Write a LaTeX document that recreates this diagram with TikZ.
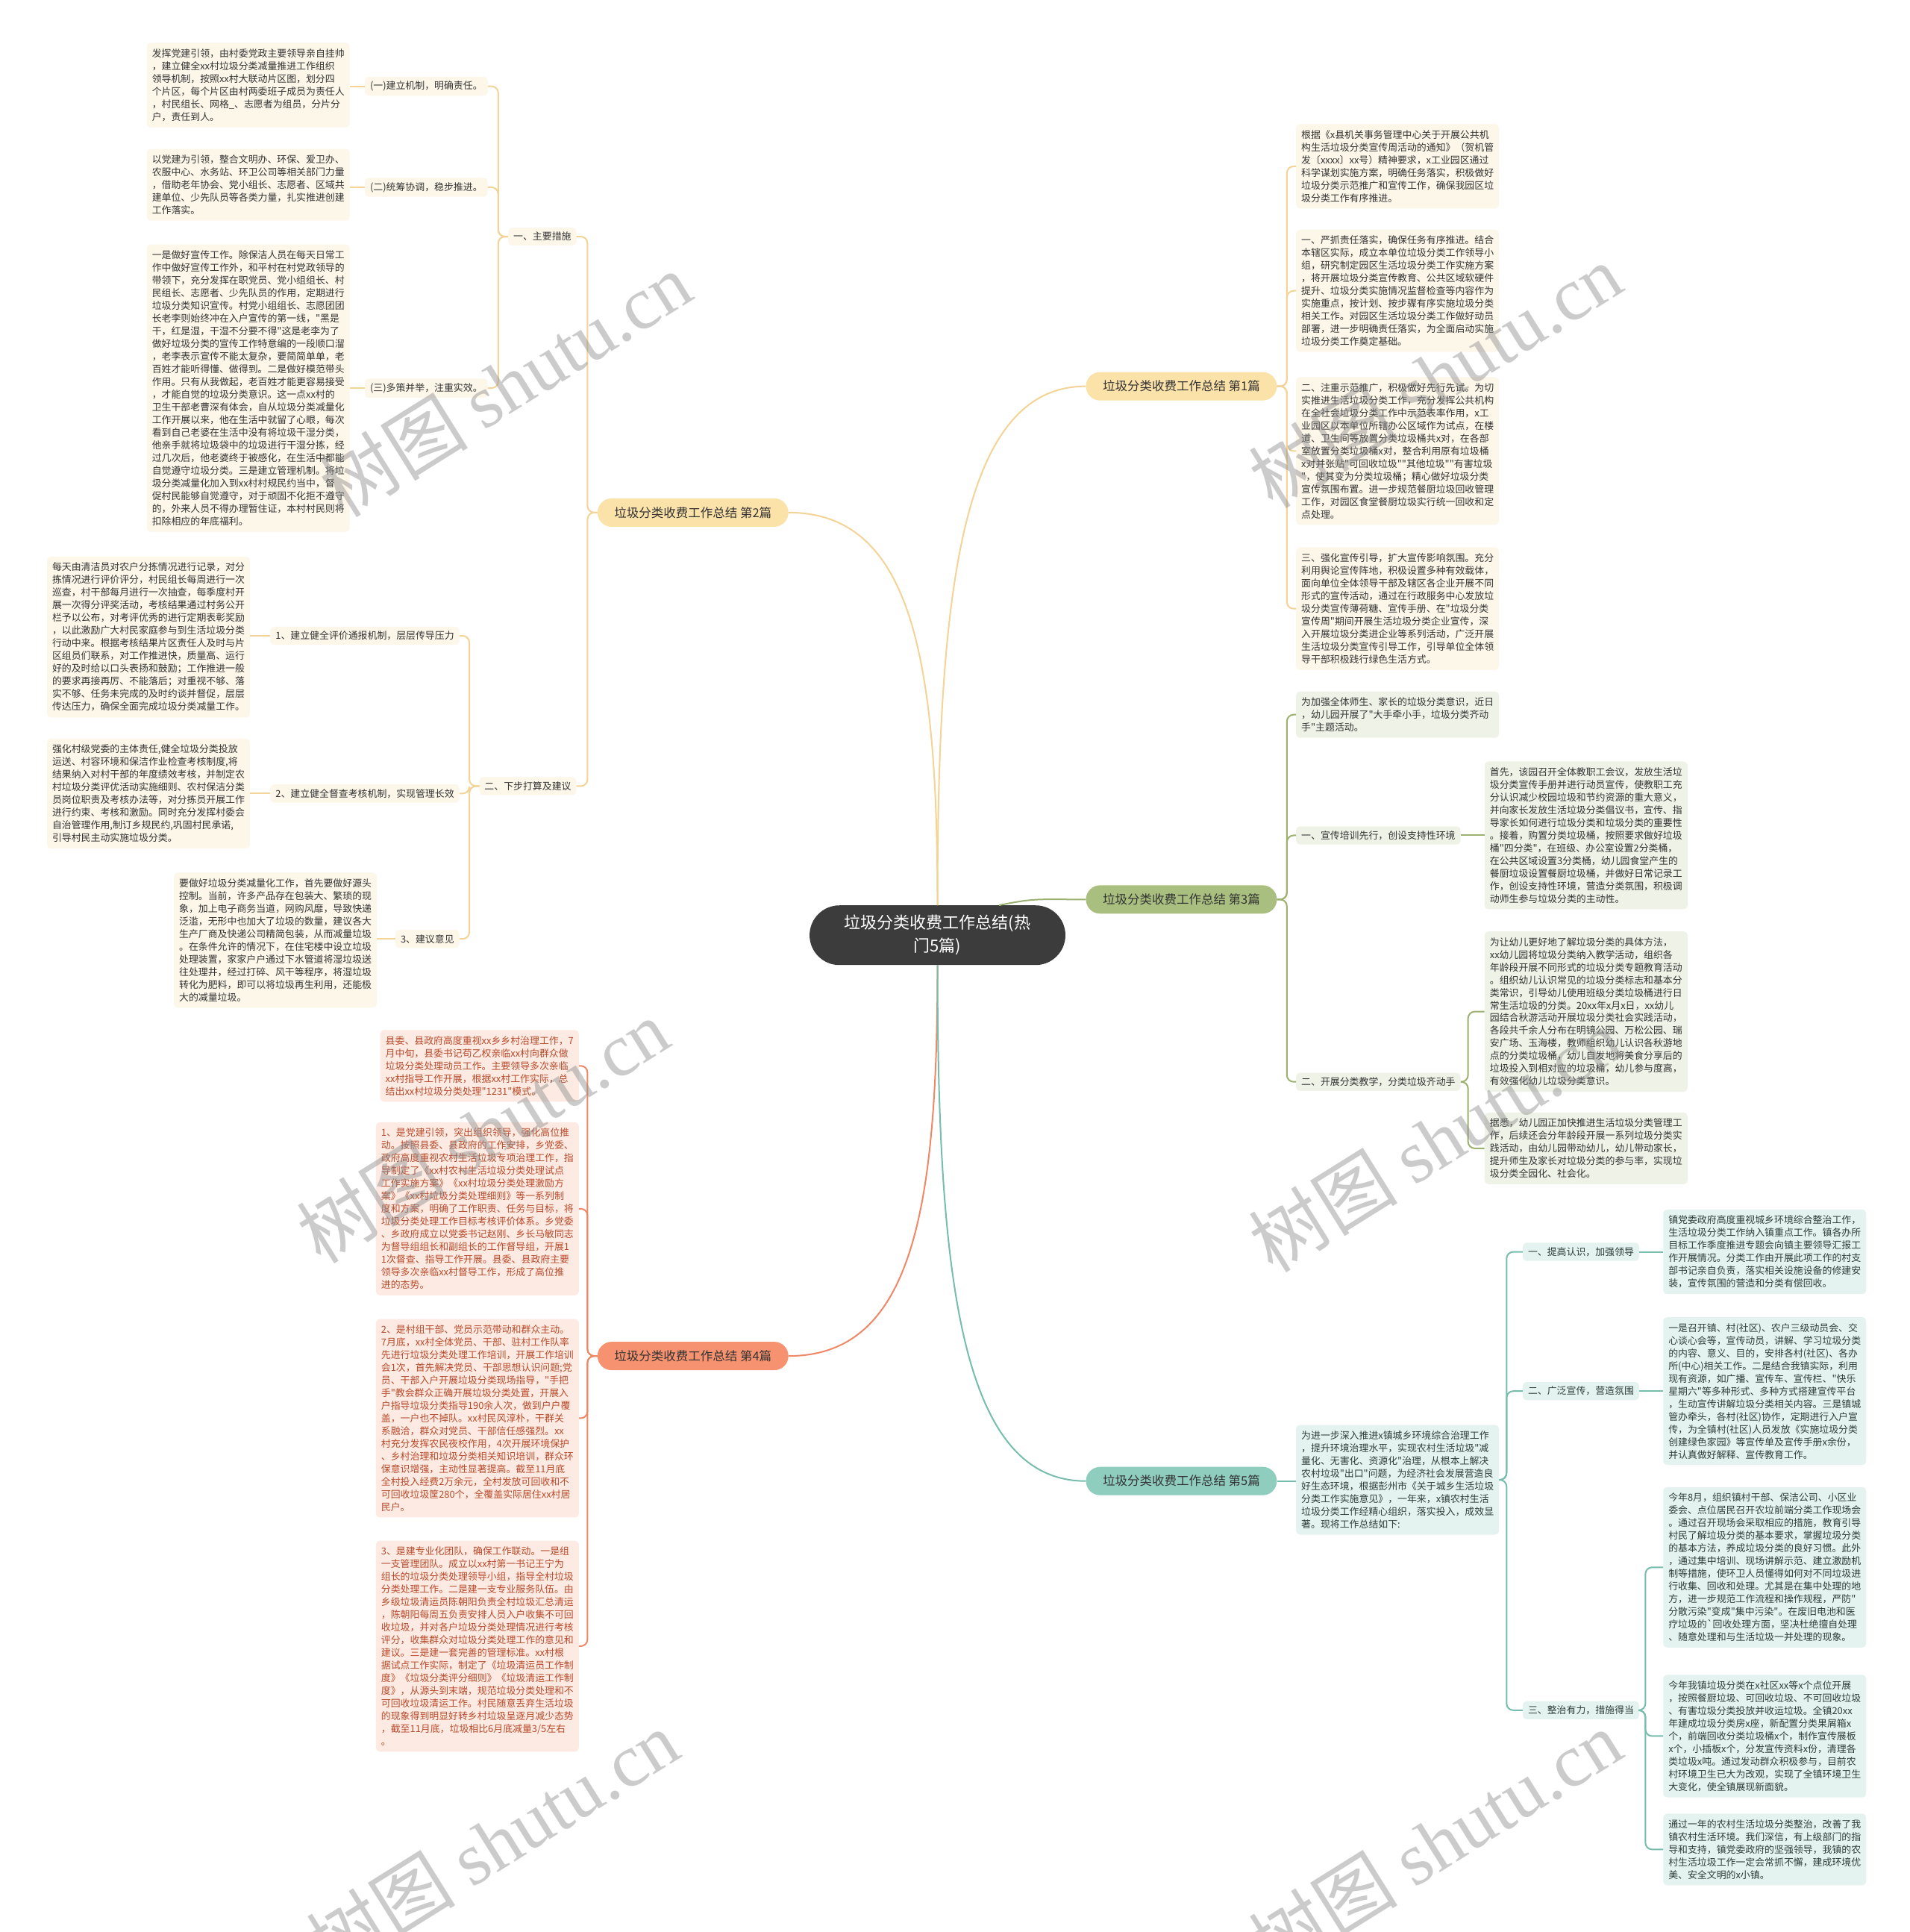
\documentclass[tikz,border=0pt]{standalone}
\usepackage{fontspec}
\newfontfamily\cjk{Noto Sans CJK SC}
\newfontfamily\wmserif{Liberation Serif}
\usetikzlibrary{calc}
\definecolor{rootc}{HTML}{3C3C3C}
\definecolor{bAfill}{HTML}{FBE2A9}
\definecolor{bAline}{HTML}{F4D396}
\definecolor{bAbox}{HTML}{FDF7E9}
\definecolor{bCfill}{HTML}{A9BF7F}
\definecolor{bCline}{HTML}{9DB271}
\definecolor{bCbox}{HTML}{EFF2E7}
\definecolor{bDfill}{HTML}{F6926F}
\definecolor{bDline}{HTML}{EE8866}
\definecolor{bDbox}{HTML}{FDEBE3}
\definecolor{bDtext}{HTML}{B84A2B}
\definecolor{bEfill}{HTML}{8FCDBF}
\definecolor{bEline}{HTML}{76BDAE}
\definecolor{bEbox}{HTML}{E4F3EF}
\definecolor{bEtext}{HTML}{2F3D3A}
\definecolor{txtc}{HTML}{333333}
\begin{document}
\begin{tikzpicture}[x=1.6516pt,y=-1.6516pt,
  rootnode/.style={fill=rootc,text=white,align=center,minimum width=343pt,minimum height=80pt,rounded corners=40pt,inner sep=4pt,font=\cjk\fontsize{22pt}{31pt}\selectfont},
  brnode/.style={minimum width=256pt,minimum height=38pt,rounded corners=19pt,inner sep=3pt,text=txtc,font=\cjk\fontsize{16.5pt}{20pt}\selectfont},
  txtbox/.style={rounded corners=5pt,inner xsep=7pt,inner ysep=8pt,align=left,font=\cjk\fontsize{12.9pt}{17pt}\selectfont},
  labbox/.style={rounded corners=5pt,inner xsep=7pt,inner ysep=6pt,align=left,font=\cjk\fontsize{12.9pt}{17pt}\selectfont},
  boxA/.style={txtbox,fill=bAbox,text=txtc},
  labA/.style={labbox,fill=bAbox,text=txtc},
  boxC/.style={txtbox,fill=bCbox,text=txtc},
  labC/.style={labbox,fill=bCbox,text=txtc},
  boxD/.style={txtbox,fill=bDbox,text=bDtext},
  boxE/.style={txtbox,fill=bEbox,text=bEtext},
  labE/.style={labbox,fill=bEbox,text=bEtext},
  conn/.style={line width=2pt,rounded corners=9pt},
  lineA/.style={conn,draw=bAline},
  lineC/.style={conn,draw=bCline},
  lineD/.style={conn,draw=bDline},
  lineE/.style={conn,draw=bEline},
  wmark/.style={text=black!45,opacity=0.45,rotate=32,font=\fontsize{100pt}{110pt}\selectfont}
]
\useasboundingbox (0,0) rectangle (1550,1568);
\fill[white] (0,0) rectangle (1550,1568);

% ---------------- root and branches
\node[rootnode] (root) at (761,759) {垃圾分类收费工作总结(热\\门5篇)};
\node[brnode,fill=bAfill] (br1) at (959,313.5) {垃圾分类收费工作总结 第1篇};
\node[brnode,fill=bAfill] (br2) at (562.5,416) {垃圾分类收费工作总结 第2篇};
\node[brnode,fill=bCfill] (br3) at (959,730) {垃圾分类收费工作总结 第3篇};
\node[brnode,fill=bDfill] (br4) at (562.5,1100.5) {垃圾分类收费工作总结 第4篇};
\node[brnode,fill=bEfill] (br5) at (959,1202) {垃圾分类收费工作总结 第5篇};

\draw[lineA] (root.north) .. controls +(0,-260) and +(-100,0) .. (br1.west);
\draw[lineA] (root.north) .. controls +(0,-200) and +(100,0) .. (br2.east);
\draw[lineC] ($(root.north)+(50,0)$) .. controls +(30,-6) and +(-40,0) .. (br3.west);
\draw[lineD] (root.south) .. controls +(0,200) and +(100,0) .. (br4.east);
\draw[lineE] (root.south) .. controls +(0,260) and +(-100,0) .. (br5.west);

% ---------------- branch 1
\node[boxA,anchor=west] (t10) at (1052,135) {根据《x县机关事务管理中心关于开展公共机\\
构生活垃圾分类宣传周活动的通知》（贺机管\\
发〔xxxx〕xx号）精神要求，x工业园区通过\\
科学谋划实施方案，明确任务落实，积极做好\\
垃圾分类示范推广和宣传工作，确保我园区垃\\
圾分类工作有序推进。};
\node[boxA,anchor=west] (t11) at (1052,236) {一、严抓责任落实，确保任务有序推进。结合\\
本辖区实际，成立本单位垃圾分类工作领导小\\
组，研究制定园区生活垃圾分类工作实施方案\\
，将开展垃圾分类宣传教育、公共区域软硬件\\
提升、垃圾分类实施情况监督检查等内容作为\\
实施重点，按计划、按步骤有序实施垃圾分类\\
相关工作。对园区生活垃圾分类工作做好动员\\
部署，进一步明确责任落实，为全面启动实施\\
垃圾分类工作奠定基础。};
\node[boxA,anchor=west] (t12) at (1052,366) {二、注重示范推广，积极做好先行先试。为切\\
实推进生活垃圾分类工作，充分发挥公共机构\\
在全社会垃圾分类工作中示范表率作用，x工\\
业园区以本单位所辖办公区域作为试点，在楼\\
道、卫生间等放置分类垃圾桶共x对，在各部\\
室放置分类垃圾桶x对，整合利用原有垃圾桶\\
x对并张贴"可回收垃圾""其他垃圾""有害垃圾\\
"，使其变为分类垃圾桶；精心做好垃圾分类\\
宣传氛围布置。进一步规范餐厨垃圾回收管理\\
工作，对园区食堂餐厨垃圾实行统一回收和定\\
点处理。};
\node[boxA,anchor=west] (t13) at (1052,494) {三、强化宣传引导，扩大宣传影响氛围。充分\\
利用舆论宣传阵地，积极设置多种有效载体，\\
面向单位全体领导干部及辖区各企业开展不同\\
形式的宣传活动，通过在行政服务中心发放垃\\
圾分类宣传薄荷糖、宣传手册、在"垃圾分类\\
宣传周"期间开展生活垃圾分类企业宣传，深\\
入开展垃圾分类进企业等系列活动，广泛开展\\
生活垃圾分类宣传引导工作，引导单位全体领\\
导干部积极践行绿色生活方式。};
\foreach \c in {t10,t11,t12,t13} \draw[lineA] (br1.east) -- ++(8,0) |- (\c.west);

% ---------------- branch 2
\node[labA,anchor=east] (m1) at (468,192) {一、主要措施};
\node[labA,anchor=east] (m2) at (468,638) {二、下步打算及建议};
\foreach \c in {m1,m2} \draw[lineA] (br2.west) -- ++(-8,0) |- (\c.east);

\node[labA,anchor=east] (l21) at (396,70) {(一)建立机制，明确责任。};
\node[labA,anchor=east] (l22) at (396,152) {(二)统筹协调，稳步推进。};
\node[labA,anchor=east] (l23) at (396,315) {(三)多策并举，注重实效。};
\foreach \c in {l21,l22,l23} \draw[lineA] (m1.west) -- ++(-8,0) |- (\c.east);

\node[boxA,anchor=east] (t21) at (284,69) {发挥党建引领，由村委党政主要领导亲自挂帅\\
，建立健全xx村垃圾分类减量推进工作组织\\
领导机制，按照xx村大联动片区图，划分四\\
个片区，每个片区由村两委班子成员为责任人\\
，村民组长、网格\_、志愿者为组员，分片分\\
户，责任到人。};
\node[boxA,anchor=east] (t22) at (284,150) {以党建为引领，整合文明办、环保、爱卫办、\\
农服中心、水务站、环卫公司等相关部门力量\\
，借助老年协会、党小组长、志愿者、区域共\\
建单位、少先队员等各类力量，扎实推进创建\\
工作落实。};
\node[boxA,anchor=east] (t23) at (284,315) {一是做好宣传工作。除保洁人员在每天日常工\\
作中做好宣传工作外，和平村在村党政领导的\\
带领下，充分发挥在职党员、党小组组长、村\\
民组长、志愿者、少先队员的作用，定期进行\\
垃圾分类知识宣传。村党小组组长、志愿团团\\
长老李则始终冲在入户宣传的第一线，"黑是\\
干，红是湿，干湿不分要不得"这是老李为了\\
做好垃圾分类的宣传工作特意编的一段顺口溜\\
，老李表示宣传不能太复杂，要简简单单，老\\
百姓才能听得懂、做得到。二是做好模范带头\\
作用。只有从我做起，老百姓才能更容易接受\\
，才能自觉的垃圾分类意识。这一点xx村的\\
卫生干部老曹深有体会，自从垃圾分类减量化\\
工作开展以来，他在生活中就留了心眼，每次\\
看到自己老婆在生活中没有将垃圾干湿分类，\\
他亲手就将垃圾袋中的垃圾进行干湿分拣，经\\
过几次后，他老婆终于被感化，在生活中都能\\
自觉遵守垃圾分类。三是建立管理机制。将垃\\
圾分类减量化加入到xx村村规民约当中，督\\
促村民能够自觉遵守，对于顽固不化拒不遵守\\
的，外来人员不得办理暂住证，本村村民则将\\
扣除相应的年底福利。};
\draw[lineA] (l21.west) -- (t21.east |- l21.west);
\draw[lineA] (l22.west) -- (t22.east |- l22.west);
\draw[lineA] (l23.west) -- (t23.east |- l23.west);

\node[labA,anchor=east] (l24) at (373,516) {1、建立健全评价通报机制，层层传导压力};
\node[labA,anchor=east] (l25) at (373,644) {2、建立健全督查考核机制，实现管理长效};
\node[labA,anchor=east] (l26) at (373,762) {3、建议意见};
\foreach \c in {l24,l25,l26} \draw[lineA] (m2.west) -- ++(-8,0) |- (\c.east);

\node[boxA,anchor=east] (t24) at (203,517) {每天由清洁员对农户分拣情况进行记录，对分\\
拣情况进行评价评分，村民组长每周进行一次\\
巡查，村干部每月进行一次抽查，每季度村开\\
展一次得分评奖活动，考核结果通过村务公开\\
栏予以公布，对考评优秀的进行定期表彰奖励\\
，以此激励广大村民家庭参与到生活垃圾分类\\
行动中来。根据考核结果片区责任人及时与片\\
区组员们联系，对工作推进快，质量高、运行\\
好的及时给以口头表扬和鼓励；工作推进一般\\
的要求再接再厉、不能落后；对重视不够、落\\
实不够、任务未完成的及时约谈并督促，层层\\
传达压力，确保全面完成垃圾分类减量工作。};
\node[boxA,anchor=east] (t25) at (203,644) {强化村级党委的主体责任,健全垃圾分类投放\\
运送、村容环境和保洁作业检查考核制度,将\\
结果纳入对村干部的年度绩效考核，并制定农\\
村垃圾分类评优活动实施细则、农村保洁分类\\
员岗位职责及考核办法等，对分拣员开展工作\\
进行约束、考核和激励。同时充分发挥村委会\\
自治管理作用,制订乡规民约,巩固村民承诺,\\
引导村民主动实施垃圾分类。};
\node[boxA,anchor=east] (t26) at (306,763) {要做好垃圾分类减量化工作，首先要做好源头\\
控制。当前，许多产品存在包装大、繁琐的现\\
象，加上电子商务当道，网购风靡，导致快递\\
泛滥，无形中也加大了垃圾的数量，建议各大\\
生产厂商及快递公司精简包装，从而减量垃圾\\
。在条件允许的情况下，在住宅楼中设立垃圾\\
处理装置，家家户户通过下水管道将湿垃圾送\\
往处理井，经过打碎、风干等程序，将湿垃圾\\
转化为肥料，即可以将垃圾再生利用，还能极\\
大的减量垃圾。};
\draw[lineA] (l24.west) -- (t24.east |- l24.west);
\draw[lineA] (l25.west) -- (t25.east |- l25.west);
\draw[lineA] (l26.west) -- (t26.east |- l26.west);

% ---------------- branch 3
\node[boxC,anchor=west] (t30) at (1052,580) {为加强全体师生、家长的垃圾分类意识，近日\\
，幼儿园开展了"大手牵小手，垃圾分类齐动\\
手"主题活动。};
\node[labC,anchor=west] (l31) at (1052,678) {一、宣传培训先行，创设支持性环境};
\node[labC,anchor=west] (l32) at (1052,878) {二、开展分类教学，分类垃圾齐动手};
\foreach \c in {t30,l31,l32} \draw[lineC] (br3.east) -- ++(8,0) |- (\c.west);

\node[boxC,anchor=west] (t31) at (1205,678) {首先，该园召开全体教职工会议，发放生活垃\\
圾分类宣传手册并进行动员宣传，使教职工充\\
分认识减少校园垃圾和节约资源的重大意义，\\
并向家长发放生活垃圾分类倡议书，宣传、指\\
导家长如何进行垃圾分类和垃圾分类的重要性\\
。接着，购置分类垃圾桶，按照要求做好垃圾\\
桶"四分类"，在班级、办公室设置2分类桶，\\
在公共区域设置3分类桶，幼儿园食堂产生的\\
餐厨垃圾设置餐厨垃圾桶，并做好日常记录工\\
作，创设支持性环境，营造分类氛围，积极调\\
动师生参与垃圾分类的主动性。};
\draw[lineC] (l31.east) -- (t31.west);
\node[boxC,anchor=west] (t32) at (1205,821) {为让幼儿更好地了解垃圾分类的具体方法，\\
xx幼儿园将垃圾分类纳入教学活动，组织各\\
年龄段开展不同形式的垃圾分类专题教育活动\\
。组织幼儿认识常见的垃圾分类标志和基本分\\
类常识，引导幼儿使用班级分类垃圾桶进行日\\
常生活垃圾的分类。20xx年x月x日，xx幼儿\\
园结合秋游活动开展垃圾分类社会实践活动，\\
各段共千余人分布在明镜公园、万松公园、瑞\\
安广场、玉海楼，教师组织幼儿认识各秋游地\\
点的分类垃圾桶，幼儿自发地将美食分享后的\\
垃圾投入到相对应的垃圾桶，幼儿参与度高，\\
有效强化幼儿垃圾分类意识。};
\node[boxC,anchor=west] (t33) at (1205,932) {据悉，幼儿园正加快推进生活垃圾分类管理工\\
作，后续还会分年龄段开展一系列垃圾分类实\\
践活动，由幼儿园带动幼儿，幼儿带动家长，\\
提升师生及家长对垃圾分类的参与率，实现垃\\
圾分类全园化、社会化。};
\foreach \c in {t32,t33} \draw[lineC] (l32.east) -- ++(6,0) |- (\c.west);

% ---------------- branch 4
\node[boxD,anchor=east] (t41) at (470,865) {县委、县政府高度重视xx乡乡村治理工作，7\\
月中旬，县委书记苟乙权亲临xx村向群众做\\
垃圾分类处理动员工作。主要领导多次亲临\\
xx村指导工作开展，根据xx村工作实际，总\\
结出xx村垃圾分类处理"1231"模式。};
\node[boxD,anchor=east] (t42) at (470,981) {1、是党建引领，突出组织领导，强化高位推\\
动。按照县委、县政府的工作安排，乡党委、\\
政府高度重视农村生活垃圾专项治理工作，指\\
导制定了《xx村农村生活垃圾分类处理试点\\
工作实施方案》《xx村垃圾分类处理激励方\\
案》《xx村垃圾分类处理细则》等一系列制\\
度和方案，明确了工作职责、任务与目标，将\\
垃圾分类处理工作目标考核评价体系。乡党委\\
、乡政府成立以党委书记赵刚、乡长马敏同志\\
为督导组组长和副组长的工作督导组，开展1\\
1次督查、指导工作开展。县委、县政府主要\\
领导多次亲临xx村督导工作，形成了高位推\\
进的态势。};
\node[boxD,anchor=east] (t43) at (470,1151) {2、是村组干部、党员示范带动和群众主动。\\
7月底，xx村全体党员、干部、驻村工作队率\\
先进行垃圾分类处理工作培训，开展工作培训\\
会1次，首先解决党员、干部思想认识问题;党\\
员、干部入户开展垃圾分类现场指导，"手把\\
手"教会群众正确开展垃圾分类处置，开展入\\
户指导垃圾分类指导190余人次，做到户户覆\\
盖，一户也不掉队。xx村民风淳朴，干群关\\
系融洽，群众对党员、干部信任感强烈。xx\\
村充分发挥农民夜校作用，4次开展环境保护\\
、乡村治理和垃圾分类相关知识培训，群众环\\
保意识增强，主动性显著提高。截至11月底\\
全村投入经费2万余元，全村发放可回收和不\\
可回收垃圾筐280个，全覆盖实际居住xx村居\\
民户。};
\node[boxD,anchor=east] (t44) at (470,1336) {3、是建专业化团队，确保工作联动。一是组\\
一支管理团队。成立以xx村第一书记王宁为\\
组长的垃圾分类处理领导小组，指导全村垃圾\\
分类处理工作。二是建一支专业服务队伍。由\\
乡级垃圾清运员陈朝阳负责全村垃圾汇总清运\\
，陈朝阳每周五负责安排人员入户收集不可回\\
收垃圾，并对各户垃圾分类处理情况进行考核\\
评分，收集群众对垃圾分类处理工作的意见和\\
建议。三是建一套完善的管理标准。xx村根\\
据试点工作实际，制定了《垃圾清运员工作制\\
度》《垃圾分类评分细则》《垃圾清运工作制\\
度》，从源头到末端，规范垃圾分类处理和不\\
可回收垃圾清运工作。村民随意丢弃生活垃圾\\
的现象得到明显好转乡村垃圾呈逐月减少态势\\
，截至11月底，垃圾相比6月底减量3/5左右\\
。};
\foreach \c in {t41,t42,t43,t44} \draw[lineD] (br4.west) -- ++(-8,0) |- (\c.east);

% ---------------- branch 5
\node[boxE,anchor=west] (t50) at (1052,1201) {为进一步深入推进x镇城乡环境综合治理工作\\
，提升环境治理水平，实现农村生活垃圾"减\\
量化、无害化、资源化"治理，从根本上解决\\
农村垃圾"出口"问题，为经济社会发展营造良\\
好生态环境，根据彭州市《关于城乡生活垃圾\\
分类工作实施意见》，一年来，x镇农村生活\\
垃圾分类工作经精心组织，落实投入，成效显\\
著。现将工作总结如下:};
\draw[lineE] (br5.east) -- (t50.west |- br5.east);

\node[labE,anchor=west] (l51) at (1236,1016) {一、提高认识，加强领导};
\node[labE,anchor=west] (l52) at (1236,1129) {二、广泛宣传，营造氛围};
\node[labE,anchor=west] (l53) at (1236,1388) {三、整治有力，措施得当};
\foreach \c in {l51,l52,l53} \draw[lineE] (t50.east) -- ++(6,0) |- (\c.west);

\node[boxE,anchor=west] (t51) at (1350,1016) {镇党委政府高度重视城乡环境综合整治工作，\\
生活垃圾分类工作纳入镇重点工作。镇各办所\\
目标工作季度推进专题会向镇主要领导汇报工\\
作开展情况。分类工作由开展此项工作的村支\\
部书记亲自负责，落实相关设施设备的修建安\\
装，宣传氛围的营造和分类有偿回收。};
\draw[lineE] (l51.east) -- (t51.west);
\node[boxE,anchor=west] (t52) at (1350,1129) {一是召开镇、村(社区)、农户三级动员会、交\\
心谈心会等，宣传动员，讲解、学习垃圾分类\\
的内容、意义、目的，安排各村(社区)、各办\\
所(中心)相关工作。二是结合我镇实际，利用\\
现有资源，如广播、宣传车、宣传栏、"快乐\\
星期六"等多种形式、多种方式搭建宣传平台\\
，生动宣传讲解垃圾分类相关内容。三是镇城\\
管办牵头，各村(社区)协作，定期进行入户宣\\
传，为全镇村(社区)人员发放《实施垃圾分类\\
创建绿色家园》等宣传单及宣传手册x余份，\\
并认真做好解释、宣传教育工作。};
\draw[lineE] (l52.east) -- (t52.west);
\node[boxE,anchor=west] (t53) at (1350,1272) {今年8月，组织镇村干部、保洁公司、小区业\\
委会、点位居民召开农垃前端分类工作现场会\\
。通过召开现场会采取相应的措施，教育引导\\
村民了解垃圾分类的基本要求，掌握垃圾分类\\
的基本方法，养成垃圾分类的良好习惯。此外\\
，通过集中培训、现场讲解示范、建立激励机\\
制等措施，使环卫人员懂得如何对不同垃圾进\\
行收集、回收和处理。尤其是在集中处理的地\\
方，进一步规范工作流程和操作规程，严防"\\
分散污染"变成"集中污染"。在废旧电池和医\\
疗垃圾的`回收处理方面，坚决杜绝擅自处理\\
、随意处理和与生活垃圾一并处理的现象。};
\node[boxE,anchor=west] (t54) at (1350,1409) {今年我镇垃圾分类在x社区xx等x个点位开展\\
，按照餐厨垃圾、可回收垃圾、不可回收垃圾\\
、有害垃圾分类投放并收运垃圾。全镇20xx\\
年建成垃圾分类房x座，新配置分类果屑箱x\\
个，前端回收分类垃圾桶x个，制作宣传展板\\
x个，小插板x个，分发宣传资料x份，清理各\\
类垃圾x吨。通过发动群众积极参与，目前农\\
村环境卫生已大为改观，实现了全镇环境卫生\\
大变化，使全镇展现新面貌。};
\node[boxE,anchor=west] (t55) at (1350,1501) {通过一年的农村生活垃圾分类整治，改善了我\\
镇农村生活环境。我们深信，有上级部门的指\\
导和支持，镇党委政府的坚强领导，我镇的农\\
村生活垃圾工作一定会常抓不懈，建成环境优\\
美、安全文明的x小镇。};
\foreach \c in {t53,t54,t55} \draw[lineE] (l53.east) -- ++(5,0) |- (\c.west);

% ---------------- watermarks
\foreach \p/\q in {410/312,1165/305,392/918,1165/925,400/1495,1165/1495}
  \node[wmark] at (\p,\q) {\cjk 树图 \wmserif shutu.cn};
\end{tikzpicture}
\end{document}
